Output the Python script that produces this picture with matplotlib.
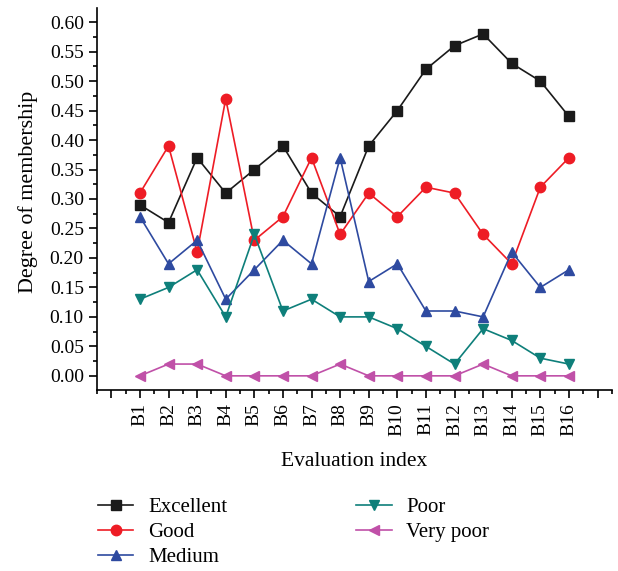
import matplotlib.pyplot as plt
from matplotlib.ticker import MultipleLocator

plt.rcParams['font.family'] = ['Liberation Serif', 'DejaVu Serif']

labels = ['B%d' % i for i in range(1, 17)]
excellent = [0.29, 0.26, 0.37, 0.31, 0.35, 0.39, 0.31, 0.27, 0.39, 0.45, 0.52, 0.56, 0.58, 0.53, 0.50, 0.44]
good = [0.31, 0.39, 0.21, 0.47, 0.23, 0.27, 0.37, 0.24, 0.31, 0.27, 0.32, 0.31, 0.24, 0.19, 0.32, 0.37]
medium = [0.27, 0.19, 0.23, 0.13, 0.18, 0.23, 0.19, 0.37, 0.16, 0.19, 0.11, 0.11, 0.10, 0.21, 0.15, 0.18]
poor = [0.13, 0.15, 0.18, 0.10, 0.24, 0.11, 0.13, 0.10, 0.10, 0.08, 0.05, 0.02, 0.08, 0.06, 0.03, 0.02]
very_poor = [0.00, 0.02, 0.02, 0.00, 0.00, 0.00, 0.00, 0.02, 0.00, 0.00, 0.00, 0.00, 0.02, 0.00, 0.00, 0.00]

x = list(range(1, 17))

fig = plt.figure(figsize=(6.18, 5.71), dpi=100)
ax = fig.add_axes([0.157, 0.317, 0.833, 0.669])

series = [
    ('Excellent', excellent, '#1a1a1a', 's'),
    ('Good', good, '#ee1c25', 'o'),
    ('Medium', medium, '#2e4aa0', '^'),
    ('Poor', poor, '#0e7f7a', 'v'),
    ('Very poor', very_poor, '#c050a8', '<'),
]
for name, vals, col, mk in series:
    ax.plot(x, vals, color=col, marker=mk, markersize=7.5, linewidth=1.2, label=name)

ax.set_xlim(-0.5, 17.5)
ax.set_ylim(-0.024, 0.624)
ax.set_xticks(range(0, 18))
ax.set_xticklabels([''] + labels + [''], rotation=90, fontsize=14)
ax.xaxis.set_minor_locator(MultipleLocator(0.5))
ax.yaxis.set_major_locator(MultipleLocator(0.05))
ax.yaxis.set_minor_locator(MultipleLocator(0.025))
ax.yaxis.set_major_formatter(lambda v, p: '%.2f' % v)
ax.tick_params(axis='y', labelsize=14)
ax.tick_params(which='major', length=6, width=1.2)
ax.tick_params(which='minor', length=3, width=1.2)
for s in ['top', 'right']:
    ax.spines[s].set_visible(False)
for s in ['left', 'bottom']:
    ax.spines[s].set_linewidth(1.2)

ax.set_xlabel('Evaluation index', fontsize=15.5)
ax.set_ylabel('Degree of membership', fontsize=15.8)
ax.xaxis.set_label_coords(0.5, -0.163)
ax.yaxis.set_label_coords(-0.115, 0.518)

fig.legend(loc='upper left', bbox_to_anchor=(0.145, 0.143), ncol=2, frameon=False,
           fontsize=15, handlelength=1.7, handletextpad=0.7, labelspacing=0.25,
           columnspacing=6.2, borderaxespad=0)

fig.savefig('out.png', dpi=100)
